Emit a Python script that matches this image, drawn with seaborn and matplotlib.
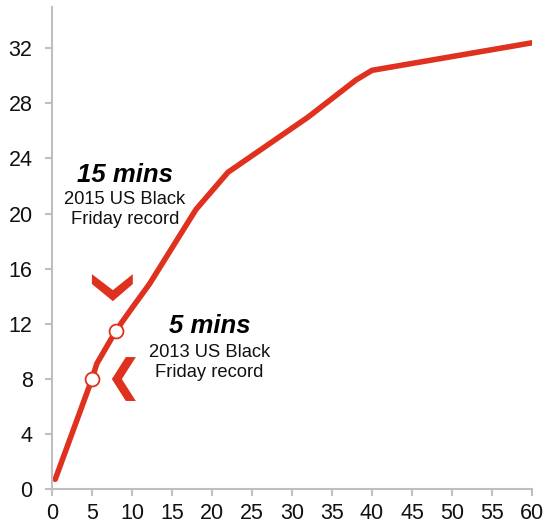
import matplotlib.pyplot as plt
import seaborn as sns
import pandas as pd
from matplotlib.patches import Polygon

# data
minutes = [0.4, 4.5, 5.0, 5.6, 8.0, 9.7, 12.2, 18.0, 22.0, 32.0, 38.0, 40.0, 50.0, 60.0]
value = [0.7, 7.2, 8.0, 9.1, 11.5, 12.9, 14.9, 20.3, 23.0, 27.0, 29.7, 30.4, 31.4, 32.4]

record_x = [5.0, 8.0]
record_y = [8.0, 11.5]

x_ticks = list(range(0, 61, 5))
y_ticks = list(range(0, 33, 4))

# chevron shapes (data coords)
chev_down = [(4.99, 15.60), (7.61, 14.44), (10.10, 15.60),
             (10.10, 14.88), (7.61, 13.64), (4.99, 14.88)]
chev_left = [(9.23, 9.58), (10.48, 9.58), (8.73, 7.98),
             (10.48, 6.39), (9.23, 6.39), (7.48, 7.98)]

red = "#e0301e"
grey = "#bfbfbf"

sns.set_style("white")
plt.rcParams['font.family'] = ['Liberation Sans', 'DejaVu Sans']

fig = plt.figure(figsize=(5.44, 5.25), dpi=100)
ax = fig.add_axes([0.0956, 0.0686, 0.8824, 0.9181])

df = pd.DataFrame({"min": minutes, "val": value})
sns.lineplot(data=df, x="min", y="val", ax=ax, color=red, linewidth=4,
             solid_joinstyle="miter", solid_capstyle="round")
ax.plot(record_x, record_y, linestyle="none", marker="o", markersize=10,
        markerfacecolor="white", markeredgecolor=red, markeredgewidth=1.3,
        zorder=5)

ax.add_patch(Polygon(chev_down, closed=True, facecolor=red, edgecolor="none"))
ax.add_patch(Polygon(chev_left, closed=True, facecolor=red, edgecolor="none"))

ax.text(9.15, 22.8, "15 mins", ha="center", va="center", fontsize=18.5,
        fontweight="bold", fontstyle="italic", color="black")
ax.text(9.1, 20.3, "2015 US Black\nFriday record", ha="center", va="center",
        fontsize=13.2, color="#111111", linespacing=1.2)

ax.text(19.7, 11.8, "5 mins", ha="center", va="center", fontsize=18.5,
        fontweight="bold", fontstyle="italic", color="black")
ax.text(19.65, 9.2, "2013 US Black\nFriday record", ha="center", va="center",
        fontsize=13.2, color="#111111", linespacing=1.2)

ax.set_xlim(0, 60)
ax.set_ylim(0, 35)
ax.set_xticks(x_ticks)
ax.set_yticks(y_ticks)
ax.set_xlabel("")
ax.set_ylabel("")

for s in ["top", "right"]:
    ax.spines[s].set_visible(False)
for s in ["left", "bottom"]:
    ax.spines[s].set_color(grey)
    ax.spines[s].set_linewidth(1.5)

ax.tick_params(axis="both", which="major", length=5, width=1.5, color=grey,
               labelsize=15.5, labelcolor="#111111", direction="out",
               left=True, bottom=True)
ax.tick_params(axis="y", pad=9)
ax.tick_params(axis="x", pad=5)

fig.savefig("out.png", dpi=100)
